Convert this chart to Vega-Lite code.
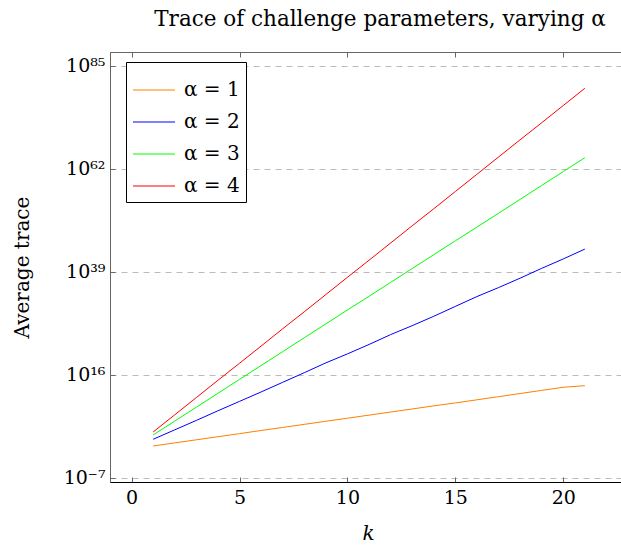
{
  "$schema": "https://vega.github.io/schema/vega-lite/v6.json",
  "autosize": "none",
  "width": 518,
  "height": 430,
  "padding": {"left": 110, "top": 52, "right": 0, "bottom": 68},
  "config": {
    "font": "DejaVu Serif",
    "view": {"stroke": "#666666", "strokeWidth": 1}
  },
  "title": {
    "text": "Trace of challenge parameters, varying α",
    "fontSize": 21.5,
    "fontWeight": "normal",
    "font": "DejaVu Serif",
    "color": "black",
    "anchor": "middle",
    "dx": 11,
    "offset": 21
  },
  "data": {
    "values": [
      {"k": 1, "alpha": "α = 1", "trace": 1.38},
      {"k": 2, "alpha": "α = 1", "trace": 6.76},
      {"k": 3, "alpha": "α = 1", "trace": 33.1},
      {"k": 4, "alpha": "α = 1", "trace": 162},
      {"k": 5, "alpha": "α = 1", "trace": 794},
      {"k": 6, "alpha": "α = 1", "trace": 3981},
      {"k": 7, "alpha": "α = 1", "trace": 1.9e4},
      {"k": 8, "alpha": "α = 1", "trace": 9.3e4},
      {"k": 9, "alpha": "α = 1", "trace": 4.57e5},
      {"k": 10, "alpha": "α = 1", "trace": 2.19e6},
      {"k": 11, "alpha": "α = 1", "trace": 1.07e7},
      {"k": 12, "alpha": "α = 1", "trace": 5.25e7},
      {"k": 13, "alpha": "α = 1", "trace": 2.51e8},
      {"k": 14, "alpha": "α = 1", "trace": 1.26e9},
      {"k": 15, "alpha": "α = 1", "trace": 5.62e9},
      {"k": 16, "alpha": "α = 1", "trace": 2.82e10},
      {"k": 17, "alpha": "α = 1", "trace": 1.41e11},
      {"k": 18, "alpha": "α = 1", "trace": 7.08e11},
      {"k": 19, "alpha": "α = 1", "trace": 3.55e12},
      {"k": 20, "alpha": "α = 1", "trace": 1.78e13},
      {"k": 21, "alpha": "α = 1", "trace": 3.98e13},
      {"k": 1, "alpha": "α = 2", "trace": 43.7},
      {"k": 2, "alpha": "α = 2", "trace": 5.6e3},
      {"k": 3, "alpha": "α = 2", "trace": 7.1e5},
      {"k": 4, "alpha": "α = 2", "trace": 1.0e8},
      {"k": 5, "alpha": "α = 2", "trace": 1.26e10},
      {"k": 6, "alpha": "α = 2", "trace": 1.58e12},
      {"k": 7, "alpha": "α = 2", "trace": 2.24e14},
      {"k": 8, "alpha": "α = 2", "trace": 3.16e16},
      {"k": 9, "alpha": "α = 2", "trace": 5.0e18},
      {"k": 10, "alpha": "α = 2", "trace": 5.0e20},
      {"k": 11, "alpha": "α = 2", "trace": 6.3e22},
      {"k": 12, "alpha": "α = 2", "trace": 1.0e25},
      {"k": 13, "alpha": "α = 2", "trace": 1.0e27},
      {"k": 14, "alpha": "α = 2", "trace": 1.26e29},
      {"k": 15, "alpha": "α = 2", "trace": 2.0e31},
      {"k": 16, "alpha": "α = 2", "trace": 3.16e33},
      {"k": 17, "alpha": "α = 2", "trace": 3.16e35},
      {"k": 18, "alpha": "α = 2", "trace": 4.0e37},
      {"k": 19, "alpha": "α = 2", "trace": 6.3e39},
      {"k": 20, "alpha": "α = 2", "trace": 7.9e41},
      {"k": 21, "alpha": "α = 2", "trace": 1.26e44},
      {"k": 1, "alpha": "α = 3", "trace": 398},
      {"k": 2, "alpha": "α = 3", "trace": 5.0e5},
      {"k": 3, "alpha": "α = 3", "trace": 6.3e8},
      {"k": 4, "alpha": "α = 3", "trace": 7.9e11},
      {"k": 5, "alpha": "α = 3", "trace": 1.0e15},
      {"k": 6, "alpha": "α = 3", "trace": 1.26e18},
      {"k": 7, "alpha": "α = 3", "trace": 1.58e21},
      {"k": 8, "alpha": "α = 3", "trace": 2.0e24},
      {"k": 9, "alpha": "α = 3", "trace": 2.5e27},
      {"k": 10, "alpha": "α = 3", "trace": 3.16e30},
      {"k": 11, "alpha": "α = 3", "trace": 3.55e33},
      {"k": 12, "alpha": "α = 3", "trace": 4.47e36},
      {"k": 13, "alpha": "α = 3", "trace": 5.6e39},
      {"k": 14, "alpha": "α = 3", "trace": 7.1e42},
      {"k": 15, "alpha": "α = 3", "trace": 8.9e45},
      {"k": 16, "alpha": "α = 3", "trace": 1.0e49},
      {"k": 17, "alpha": "α = 3", "trace": 1.26e52},
      {"k": 18, "alpha": "α = 3", "trace": 1.58e55},
      {"k": 19, "alpha": "α = 3", "trace": 2.0e58},
      {"k": 20, "alpha": "α = 3", "trace": 2.5e61},
      {"k": 21, "alpha": "α = 3", "trace": 3.16e64},
      {"k": 1, "alpha": "α = 4", "trace": 1.86e3},
      {"k": 2, "alpha": "α = 4", "trace": 1.26e7},
      {"k": 3, "alpha": "α = 4", "trace": 8.9e10},
      {"k": 4, "alpha": "α = 4", "trace": 6.3e14},
      {"k": 5, "alpha": "α = 4", "trace": 4.0e18},
      {"k": 6, "alpha": "α = 4", "trace": 2.8e22},
      {"k": 7, "alpha": "α = 4", "trace": 2.0e26},
      {"k": 8, "alpha": "α = 4", "trace": 1.26e30},
      {"k": 9, "alpha": "α = 4", "trace": 8.9e33},
      {"k": 10, "alpha": "α = 4", "trace": 6.3e37},
      {"k": 11, "alpha": "α = 4", "trace": 4.0e41},
      {"k": 12, "alpha": "α = 4", "trace": 2.8e45},
      {"k": 13, "alpha": "α = 4", "trace": 2.0e49},
      {"k": 14, "alpha": "α = 4", "trace": 1.26e53},
      {"k": 15, "alpha": "α = 4", "trace": 8.9e56},
      {"k": 16, "alpha": "α = 4", "trace": 6.3e60},
      {"k": 17, "alpha": "α = 4", "trace": 4.47e64},
      {"k": 18, "alpha": "α = 4", "trace": 3.16e68},
      {"k": 19, "alpha": "α = 4", "trace": 2.0e72},
      {"k": 20, "alpha": "α = 4", "trace": 1.41e76},
      {"k": 21, "alpha": "α = 4", "trace": 1.0e80}
    ]
  },
  "resolve": {"axis": {"x": "independent", "y": "independent"}},
  "layer": [
    {
      "mark": {"type": "line", "strokeWidth": 1, "clip": true},
      "encoding": {
        "x": {
          "field": "k", "type": "quantitative",
          "scale": {"domain": [-1, 23], "nice": false, "zero": false},
          "axis": {
            "title": "k", "titleFontStyle": "italic", "titleFontWeight": "normal",
            "titleFontSize": 20, "titleColor": "black", "titleFont": "DejaVu Serif",
            "titleX": 258, "titleY": 51, "titleBaseline": "middle",
            "values": [0, 5, 10, 15, 20],
            "tickSize": -5, "tickColor": "#666666", "domainColor": "black", "domainWidth": 1.2,
            "labelFontSize": 19, "labelColor": "black", "labelPadding": 11,
            "grid": false
          }
        },
        "y": {
          "field": "trace", "type": "quantitative",
          "scale": {"type": "log", "domain": [1.26e-8, 1.26e88], "nice": false},
          "axis": {
            "title": "Average trace", "titleFontWeight": "normal", "titleFontSize": 20,
            "titleColor": "black", "titleFont": "DejaVu Serif",
            "titleX": -88, "titleY": 215, "titleAngle": -90, "titleAlign": "center", "titleBaseline": "middle",
            "values": [1e-7, 1e16, 1e39, 1e62, 1e85],
            "labelExpr": "datum.value < 1e-6 ? '10⁻⁷' : datum.value < 1e17 ? '10¹⁶' : datum.value < 1e40 ? '10³⁹' : datum.value < 1e63 ? '10⁶²' : '10⁸⁵'",
            "tickSize": -5, "tickColor": "#666666", "domainColor": "#666666",
            "labelFontSize": 19, "labelColor": "black", "labelPadding": 10,
            "grid": true, "gridDash": [6, 5], "gridColor": "#bbbbbb", "gridWidth": 1
          }
        },
        "color": {
          "field": "alpha", "type": "nominal",
          "scale": {"domain": ["α = 1", "α = 2", "α = 3", "α = 4"], "range": ["#FF8000", "#0000FF", "#00FF00", "#FF0000"]},
          "legend": {
            "title": null, "orient": "none", "legendX": 16, "legendY": 10,
            "fillColor": "white", "strokeColor": "black", "padding": 6,
            "symbolType": "stroke", "symbolSize": 1764, "symbolStrokeWidth": 1.2,
            "labelFontSize": 20, "labelColor": "black", "labelFont": "DejaVu Serif",
            "rowPadding": -17, "labelOffset": 8
          }
        }
      }
    },
    {
      "mark": {"type": "line", "opacity": 0},
      "encoding": {
        "x": {
          "field": "k", "type": "quantitative",
          "scale": {"domain": [-1, 23], "nice": false, "zero": false},
          "axis": {"orient": "top", "title": null, "labels": false, "values": [0, 5, 10, 15, 20], "tickSize": -5, "tickColor": "#666666", "domainColor": "#666666", "grid": false}
        },
        "y": {
          "field": "trace", "type": "quantitative",
          "scale": {"type": "log", "domain": [1.26e-8, 1.26e88], "nice": false},
          "axis": {"orient": "right", "title": null, "labels": false, "values": [1e-7, 1e16, 1e39, 1e62, 1e85], "tickSize": -5, "tickColor": "#666666", "domainColor": "#666666", "grid": false}
        },
        "detail": {"field": "alpha", "type": "nominal"}
      }
    }
  ]
}
